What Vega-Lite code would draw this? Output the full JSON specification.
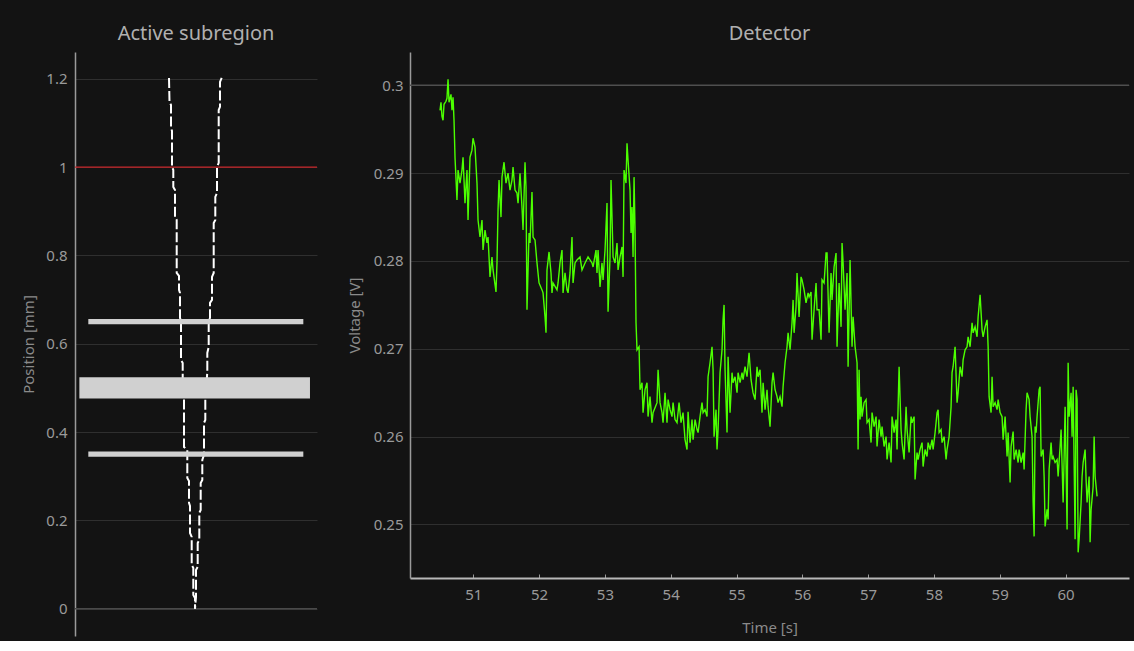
{
  "$schema": "https://vega.github.io/schema/vega-lite/v6.json",
  "background": "#131313",
  "padding": {"left": 21, "top": 24, "right": 5, "bottom": 5},
  "spacing": 29,
  "config": {
    "font": "Noto Sans",
    "view": {"stroke": null},
    "axis": {
      "labelColor": "#9a9a9a",
      "titleColor": "#8a8a8a",
      "labelFontSize": 15,
      "titleFontSize": 15,
      "titleFontWeight": "normal",
      "gridColor": "#2f2f2f",
      "gridWidth": 1,
      "domainColor": "#9a9a9a",
      "domainWidth": 1.5
    },
    "title": {"color": "#b0b0b0", "fontSize": 20, "fontWeight": "normal", "anchor": "middle", "offset": 8}
  },
  "hconcat": [
    {
      "width": 242,
      "height": 584,
      "title": "Active subregion",
      "encoding": {
        "y": {
          "field": "pos", "type": "quantitative",
          "scale": {"domain": [-0.062, 1.261], "nice": false, "zero": false},
          "axis": {"title": "Position [mm]", "values": [0, 0.2, 0.4, 0.6, 0.8, 1, 1.2], "format": "~g", "ticks": false, "grid": true, "labelPadding": 8, "titlePadding": 9}
        }
      },
      "layer": [
        {
          "data": {"values": [{"pos": 0}]},
          "mark": {"type": "rule", "color": "#4a4a4a", "strokeWidth": 1.5},
          "encoding": {}
        },
        {
          "data": {"values": [{"pos": 1}]},
          "mark": {"type": "rule", "color": "#c8262a", "strokeWidth": 1.2},
          "encoding": {}
        },
        {
          "data": {"values": [
            {"side": "L", "i": 0, "xd": -0.2231, "pos": 1.2023},
            {"side": "L", "i": 1, "xd": -0.2190, "pos": 1.1479},
            {"side": "L", "i": 2, "xd": -0.2066, "pos": 1.1411},
            {"side": "L", "i": 3, "xd": -0.2066, "pos": 1.0890},
            {"side": "L", "i": 4, "xd": -0.1983, "pos": 1.0822},
            {"side": "L", "i": 5, "xd": -0.1983, "pos": 1.0007},
            {"side": "L", "i": 6, "xd": -0.1876, "pos": 0.9939},
            {"side": "L", "i": 7, "xd": -0.1876, "pos": 0.9554},
            {"side": "L", "i": 8, "xd": -0.1736, "pos": 0.9486},
            {"side": "L", "i": 9, "xd": -0.1736, "pos": 0.8874},
            {"side": "L", "i": 10, "xd": -0.1595, "pos": 0.8806},
            {"side": "L", "i": 11, "xd": -0.1595, "pos": 0.7605},
            {"side": "L", "i": 12, "xd": -0.1405, "pos": 0.7537},
            {"side": "L", "i": 13, "xd": -0.1405, "pos": 0.7220},
            {"side": "L", "i": 14, "xd": -0.1322, "pos": 0.7152},
            {"side": "L", "i": 15, "xd": -0.1322, "pos": 0.6586},
            {"side": "L", "i": 16, "xd": -0.1240, "pos": 0.6518},
            {"side": "L", "i": 17, "xd": -0.1240, "pos": 0.5634},
            {"side": "L", "i": 18, "xd": -0.1099, "pos": 0.5566},
            {"side": "L", "i": 19, "xd": -0.1099, "pos": 0.5181},
            {"side": "L", "i": 20, "xd": -0.0992, "pos": 0.4841},
            {"side": "L", "i": 21, "xd": -0.0992, "pos": 0.3663},
            {"side": "L", "i": 22, "xd": -0.0719, "pos": 0.3595},
            {"side": "L", "i": 23, "xd": -0.0719, "pos": 0.2961},
            {"side": "L", "i": 24, "xd": -0.0579, "pos": 0.2893},
            {"side": "L", "i": 25, "xd": -0.0579, "pos": 0.2395},
            {"side": "L", "i": 26, "xd": -0.0496, "pos": 0.2327},
            {"side": "L", "i": 27, "xd": -0.0496, "pos": 0.1715},
            {"side": "L", "i": 28, "xd": -0.0355, "pos": 0.1624},
            {"side": "L", "i": 29, "xd": -0.0355, "pos": 0.0990},
            {"side": "L", "i": 30, "xd": -0.0223, "pos": 0.0922},
            {"side": "L", "i": 31, "xd": -0.0223, "pos": 0.0310},
            {"side": "L", "i": 32, "xd": -0.0083, "pos": 0.0242},
            {"side": "L", "i": 33, "xd": -0.0083, "pos": 0.0},
            {"side": "R", "i": 0, "xd": 0.2124, "pos": 1.2023},
            {"side": "R", "i": 1, "xd": 0.1983, "pos": 1.1932},
            {"side": "R", "i": 2, "xd": 0.1983, "pos": 1.1366},
            {"side": "R", "i": 3, "xd": 0.1876, "pos": 1.1298},
            {"side": "R", "i": 4, "xd": 0.1876, "pos": 1.0098},
            {"side": "R", "i": 5, "xd": 0.1736, "pos": 1.0007},
            {"side": "R", "i": 6, "xd": 0.1736, "pos": 0.9418},
            {"side": "R", "i": 7, "xd": 0.1595, "pos": 0.9327},
            {"side": "R", "i": 8, "xd": 0.1595, "pos": 0.8806},
            {"side": "R", "i": 9, "xd": 0.1463, "pos": 0.8738},
            {"side": "R", "i": 10, "xd": 0.1463, "pos": 0.7605},
            {"side": "R", "i": 11, "xd": 0.1322, "pos": 0.7515},
            {"side": "R", "i": 12, "xd": 0.1322, "pos": 0.6994},
            {"side": "R", "i": 13, "xd": 0.1157, "pos": 0.6926},
            {"side": "R", "i": 14, "xd": 0.1157, "pos": 0.6586},
            {"side": "R", "i": 15, "xd": 0.1050, "pos": 0.6518},
            {"side": "R", "i": 16, "xd": 0.1050, "pos": 0.5929},
            {"side": "R", "i": 17, "xd": 0.0934, "pos": 0.5793},
            {"side": "R", "i": 18, "xd": 0.0934, "pos": 0.5363},
            {"side": "R", "i": 19, "xd": 0.0769, "pos": 0.4728},
            {"side": "R", "i": 20, "xd": 0.0769, "pos": 0.4275},
            {"side": "R", "i": 21, "xd": 0.0661, "pos": 0.4207},
            {"side": "R", "i": 22, "xd": 0.0661, "pos": 0.3482},
            {"side": "R", "i": 23, "xd": 0.0521, "pos": 0.3369},
            {"side": "R", "i": 24, "xd": 0.0521, "pos": 0.2916},
            {"side": "R", "i": 25, "xd": 0.0388, "pos": 0.2848},
            {"side": "R", "i": 26, "xd": 0.0388, "pos": 0.2236},
            {"side": "R", "i": 27, "xd": 0.0273, "pos": 0.2168},
            {"side": "R", "i": 28, "xd": 0.0273, "pos": 0.1556},
            {"side": "R", "i": 29, "xd": 0.0140, "pos": 0.1488},
            {"side": "R", "i": 30, "xd": 0.0140, "pos": 0.0945},
            {"side": "R", "i": 31, "xd": 0.0, "pos": 0.0877},
            {"side": "R", "i": 32, "xd": 0.0, "pos": 0.0265},
            {"side": "R", "i": 33, "xd": -0.0083, "pos": 0.0}
          ]},
          "mark": {"type": "line", "color": "#ffffff", "strokeWidth": 2, "strokeDash": [10, 3]},
          "encoding": {
            "x": {"field": "xd", "type": "quantitative", "scale": {"domain": [-1, 1], "nice": false, "zero": false}, "axis": null},
            "detail": {"field": "side"},
            "order": {"field": "i", "type": "quantitative"}
          }
        },
        {
          "data": {"values": [
            {"xl": -0.890, "xr": 0.887, "pos": 0.644, "pos2": 0.656},
            {"xl": -0.964, "xr": 0.942, "pos": 0.476, "pos2": 0.524},
            {"xl": -0.890, "xr": 0.887, "pos": 0.344, "pos2": 0.356}
          ]},
          "mark": {"type": "rect", "color": "#d0d0d0"},
          "encoding": {
            "x": {"field": "xl", "type": "quantitative", "scale": {"domain": [-1, 1], "nice": false, "zero": false}, "axis": null},
            "x2": {"field": "xr"},
            "y2": {"field": "pos2"}
          }
        }
      ]
    },
    {
      "width": 719,
      "height": 526,
      "title": "Detector",
      "encoding": {
        "y": {
          "field": "v", "type": "quantitative",
          "scale": {"domain": [0.2439, 0.3038], "nice": false, "zero": false},
          "axis": {"title": "Voltage [V]", "values": [0.25, 0.26, 0.27, 0.28, 0.29, 0.3], "format": "~g", "ticks": false, "grid": true, "labelPadding": 7, "titlePadding": 11}
        }
      },
      "layer": [
        {
          "data": {"values": [{"v": 0.3}]},
          "mark": {"type": "rule", "color": "#4f4f4f", "strokeWidth": 1.5},
          "encoding": {}
        },
        {
          "data": {"values": [
{"t":50.494,"v":0.29716},{"t":50.509,"v":0.29807},{"t":50.524,"v":0.29648},{"t":50.540,"v":0.29603},{"t":50.555,"v":0.29785},{"t":50.585,"v":0.29819},{"t":50.600,"v":0.29853},{"t":50.616,"v":0.30069},{"t":50.631,"v":0.29807},{"t":50.661,"v":0.29898},
{"t":50.676,"v":0.29716},{"t":50.692,"v":0.29864},{"t":50.707,"v":0.29603},{"t":50.722,"v":0.29182},{"t":50.752,"v":0.28694},{"t":50.768,"v":0.29035},{"t":50.798,"v":0.28887},{"t":50.828,"v":0.29035},{"t":50.844,"v":0.29182},{"t":50.874,"v":0.28659},
{"t":50.904,"v":0.29035},{"t":50.920,"v":0.28466},{"t":50.950,"v":0.29182},{"t":50.980,"v":0.29262},{"t":50.996,"v":0.29398},{"t":51.026,"v":0.29296},{"t":51.056,"v":0.28887},{"t":51.072,"v":0.28466},{"t":51.102,"v":0.28273},{"t":51.132,"v":0.28466},
{"t":51.148,"v":0.28125},{"t":51.178,"v":0.28353},{"t":51.208,"v":0.28205},{"t":51.224,"v":0.28273},{"t":51.254,"v":0.27819},{"t":51.284,"v":0.28046},{"t":51.300,"v":0.27898},{"t":51.345,"v":0.27648},{"t":51.360,"v":0.27978},{"t":51.376,"v":0.28580},
{"t":51.391,"v":0.28921},{"t":51.421,"v":0.28500},{"t":51.436,"v":0.28955},{"t":51.467,"v":0.29125},{"t":51.497,"v":0.28887},{"t":51.528,"v":0.29000},{"t":51.558,"v":0.28807},{"t":51.588,"v":0.28921},{"t":51.604,"v":0.29069},{"t":51.634,"v":0.28807},
{"t":51.664,"v":0.28773},{"t":51.680,"v":0.28659},{"t":51.710,"v":0.29000},{"t":51.740,"v":0.28614},{"t":51.756,"v":0.28353},{"t":51.786,"v":0.29125},{"t":51.801,"v":0.28841},{"t":51.816,"v":0.27444},{"t":51.847,"v":0.28319},{"t":51.862,"v":0.28205},
{"t":51.892,"v":0.28785},{"t":51.908,"v":0.28273},{"t":51.938,"v":0.28239},{"t":51.968,"v":0.27978},{"t":51.999,"v":0.27750},{"t":52.044,"v":0.27671},{"t":52.060,"v":0.27637},{"t":52.090,"v":0.27364},{"t":52.105,"v":0.27182},{"t":52.120,"v":0.27898},
{"t":52.151,"v":0.28103},{"t":52.181,"v":0.27864},{"t":52.196,"v":0.27637},{"t":52.212,"v":0.27750},{"t":52.272,"v":0.27671},{"t":52.288,"v":0.27750},{"t":52.318,"v":0.27978},{"t":52.348,"v":0.28125},{"t":52.364,"v":0.27637},{"t":52.394,"v":0.27864},
{"t":52.424,"v":0.27671},{"t":52.440,"v":0.27637},{"t":52.470,"v":0.27864},{"t":52.500,"v":0.28273},{"t":52.516,"v":0.27750},{"t":52.546,"v":0.27978},{"t":52.576,"v":0.28012},{"t":52.622,"v":0.28046},{"t":52.652,"v":0.27898},{"t":52.698,"v":0.27978},
{"t":52.744,"v":0.28046},{"t":52.804,"v":0.27978},{"t":52.820,"v":0.27932},{"t":52.865,"v":0.28125},{"t":52.880,"v":0.27864},{"t":52.896,"v":0.28125},{"t":52.926,"v":0.27705},{"t":52.956,"v":0.27978},{"t":52.972,"v":0.27785},{"t":53.002,"v":0.28125},
{"t":53.032,"v":0.28659},{"t":53.048,"v":0.27421},{"t":53.078,"v":0.28046},{"t":53.093,"v":0.28921},{"t":53.124,"v":0.28046},{"t":53.154,"v":0.27978},{"t":53.184,"v":0.28205},{"t":53.200,"v":0.27898},{"t":53.230,"v":0.28046},{"t":53.260,"v":0.28160},
{"t":53.276,"v":0.27819},{"t":53.291,"v":0.29035},{"t":53.321,"v":0.28887},{"t":53.336,"v":0.29341},{"t":53.352,"v":0.29148},{"t":53.382,"v":0.28807},{"t":53.397,"v":0.28319},{"t":53.412,"v":0.28614},{"t":53.428,"v":0.28046},{"t":53.443,"v":0.28955},
{"t":53.458,"v":0.28353},{"t":53.473,"v":0.27296},{"t":53.488,"v":0.26989},{"t":53.519,"v":0.27023},{"t":53.534,"v":0.26534},{"t":53.564,"v":0.26614},{"t":53.580,"v":0.26273},{"t":53.610,"v":0.26534},{"t":53.640,"v":0.26614},{"t":53.656,"v":0.26228},
{"t":53.686,"v":0.26455},{"t":53.716,"v":0.26159},{"t":53.732,"v":0.26273},{"t":53.792,"v":0.26387},{"t":53.808,"v":0.26762},{"t":53.838,"v":0.26387},{"t":53.868,"v":0.26273},{"t":53.884,"v":0.26159},{"t":53.914,"v":0.26500},{"t":53.944,"v":0.26159},
{"t":53.960,"v":0.26421},{"t":53.990,"v":0.26307},{"t":54.020,"v":0.26228},{"t":54.036,"v":0.26387},{"t":54.066,"v":0.26194},{"t":54.096,"v":0.26159},{"t":54.127,"v":0.26387},{"t":54.157,"v":0.26159},{"t":54.187,"v":0.26273},{"t":54.218,"v":0.25966},
{"t":54.248,"v":0.25853},{"t":54.264,"v":0.26284},{"t":54.294,"v":0.25932},{"t":54.324,"v":0.26194},{"t":54.340,"v":0.25966},{"t":54.370,"v":0.26194},{"t":54.400,"v":0.26080},{"t":54.416,"v":0.26046},{"t":54.446,"v":0.26228},{"t":54.476,"v":0.26387},
{"t":54.492,"v":0.26273},{"t":54.522,"v":0.26307},{"t":54.552,"v":0.26228},{"t":54.568,"v":0.26682},{"t":54.598,"v":0.26841},{"t":54.628,"v":0.27023},{"t":54.644,"v":0.26762},{"t":54.659,"v":0.26000},{"t":54.689,"v":0.26307},{"t":54.704,"v":0.25853},
{"t":54.720,"v":0.26080},{"t":54.750,"v":0.26728},{"t":54.780,"v":0.26989},{"t":54.796,"v":0.27330},{"t":54.811,"v":0.27500},{"t":54.826,"v":0.26762},{"t":54.856,"v":0.26046},{"t":54.872,"v":0.26910},{"t":54.902,"v":0.26273},{"t":54.932,"v":0.26728},
{"t":54.948,"v":0.26614},{"t":54.978,"v":0.26682},{"t":55.008,"v":0.26500},{"t":55.024,"v":0.26728},{"t":55.054,"v":0.26614},{"t":55.084,"v":0.26728},{"t":55.100,"v":0.26648},{"t":55.130,"v":0.26796},{"t":55.160,"v":0.26682},{"t":55.191,"v":0.26955},
{"t":55.221,"v":0.26648},{"t":55.251,"v":0.26500},{"t":55.282,"v":0.26421},{"t":55.312,"v":0.26796},{"t":55.328,"v":0.26682},{"t":55.358,"v":0.26762},{"t":55.388,"v":0.26273},{"t":55.404,"v":0.26614},{"t":55.434,"v":0.26307},{"t":55.464,"v":0.26534},
{"t":55.480,"v":0.26341},{"t":55.510,"v":0.26114},{"t":55.540,"v":0.26614},{"t":55.556,"v":0.26728},{"t":55.586,"v":0.26534},{"t":55.616,"v":0.26455},{"t":55.632,"v":0.26387},{"t":55.662,"v":0.26455},{"t":55.692,"v":0.26341},{"t":55.708,"v":0.26569},
{"t":55.738,"v":0.26841},{"t":55.768,"v":0.27023},{"t":55.784,"v":0.27182},{"t":55.814,"v":0.26989},{"t":55.844,"v":0.27296},{"t":55.860,"v":0.27557},{"t":55.875,"v":0.27182},{"t":55.905,"v":0.27478},{"t":55.920,"v":0.27864},{"t":55.951,"v":0.27364},
{"t":55.981,"v":0.27819},{"t":55.996,"v":0.27785},{"t":56.027,"v":0.27671},{"t":56.057,"v":0.27523},{"t":56.088,"v":0.27637},{"t":56.103,"v":0.27591},{"t":56.133,"v":0.27648},{"t":56.148,"v":0.27103},{"t":56.179,"v":0.27444},{"t":56.209,"v":0.27750},
{"t":56.224,"v":0.27444},{"t":56.255,"v":0.27444},{"t":56.285,"v":0.27103},{"t":56.300,"v":0.27785},{"t":56.331,"v":0.27750},{"t":56.361,"v":0.28091},{"t":56.376,"v":0.28091},{"t":56.407,"v":0.27182},{"t":56.437,"v":0.27864},{"t":56.452,"v":0.27557},
{"t":56.483,"v":0.27932},{"t":56.513,"v":0.28091},{"t":56.528,"v":0.27023},{"t":56.559,"v":0.27750},{"t":56.589,"v":0.27250},{"t":56.604,"v":0.28205},{"t":56.620,"v":0.27978},{"t":56.650,"v":0.27444},{"t":56.680,"v":0.27864},{"t":56.696,"v":0.26796},
{"t":56.726,"v":0.28012},{"t":56.756,"v":0.27023},{"t":56.772,"v":0.27364},{"t":56.802,"v":0.27023},{"t":56.832,"v":0.26841},{"t":56.848,"v":0.25853},{"t":56.863,"v":0.26762},{"t":56.878,"v":0.26194},{"t":56.893,"v":0.26455},{"t":56.908,"v":0.26228},
{"t":56.939,"v":0.26387},{"t":56.969,"v":0.26421},{"t":56.984,"v":0.26159},{"t":57.015,"v":0.26194},{"t":57.045,"v":0.25932},{"t":57.060,"v":0.26273},{"t":57.091,"v":0.26114},{"t":57.121,"v":0.26228},{"t":57.136,"v":0.25887},{"t":57.167,"v":0.26194},
{"t":57.197,"v":0.26000},{"t":57.212,"v":0.26114},{"t":57.243,"v":0.25887},{"t":57.273,"v":0.26000},{"t":57.288,"v":0.25739},{"t":57.319,"v":0.25932},{"t":57.349,"v":0.25705},{"t":57.364,"v":0.26228},{"t":57.395,"v":0.26046},{"t":57.425,"v":0.26194},
{"t":57.440,"v":0.25853},{"t":57.471,"v":0.26796},{"t":57.501,"v":0.26080},{"t":57.516,"v":0.25932},{"t":57.547,"v":0.25739},{"t":57.577,"v":0.26341},{"t":57.592,"v":0.26080},{"t":57.623,"v":0.25819},{"t":57.653,"v":0.26228},{"t":57.668,"v":0.26159},
{"t":57.699,"v":0.26228},{"t":57.714,"v":0.25512},{"t":57.744,"v":0.25819},{"t":57.760,"v":0.25739},{"t":57.790,"v":0.25853},{"t":57.820,"v":0.25932},{"t":57.836,"v":0.25659},{"t":57.866,"v":0.25853},{"t":57.896,"v":0.25773},{"t":57.912,"v":0.25932},
{"t":57.942,"v":0.25853},{"t":57.972,"v":0.25966},{"t":57.988,"v":0.25853},{"t":58.018,"v":0.26046},{"t":58.048,"v":0.26273},{"t":58.064,"v":0.26307},{"t":58.079,"v":0.26046},{"t":58.109,"v":0.26080},{"t":58.124,"v":0.25932},{"t":58.155,"v":0.26000},
{"t":58.185,"v":0.25739},{"t":58.200,"v":0.25853},{"t":58.231,"v":0.26000},{"t":58.261,"v":0.26341},{"t":58.276,"v":0.26728},{"t":58.292,"v":0.26796},{"t":58.322,"v":0.27023},{"t":58.352,"v":0.26387},{"t":58.368,"v":0.26500},{"t":58.398,"v":0.26796},
{"t":58.428,"v":0.26682},{"t":58.444,"v":0.26875},{"t":58.474,"v":0.26989},{"t":58.504,"v":0.27023},{"t":58.520,"v":0.27137},{"t":58.550,"v":0.27023},{"t":58.580,"v":0.27296},{"t":58.596,"v":0.27182},{"t":58.626,"v":0.27250},{"t":58.656,"v":0.27137},
{"t":58.672,"v":0.27364},{"t":58.702,"v":0.27614},{"t":58.732,"v":0.27216},{"t":58.748,"v":0.27137},{"t":58.778,"v":0.27250},{"t":58.808,"v":0.27330},{"t":58.824,"v":0.27023},{"t":58.839,"v":0.26455},{"t":58.869,"v":0.26273},{"t":58.884,"v":0.26682},
{"t":58.900,"v":0.26341},{"t":58.930,"v":0.26387},{"t":58.960,"v":0.26307},{"t":58.976,"v":0.26421},{"t":59.006,"v":0.26273},{"t":59.036,"v":0.26228},{"t":59.052,"v":0.25966},{"t":59.082,"v":0.26228},{"t":59.112,"v":0.25773},{"t":59.128,"v":0.26046},
{"t":59.158,"v":0.25478},{"t":59.173,"v":0.25887},{"t":59.204,"v":0.26057},{"t":59.219,"v":0.25739},{"t":59.249,"v":0.25853},{"t":59.280,"v":0.25705},{"t":59.295,"v":0.25853},{"t":59.325,"v":0.25705},{"t":59.356,"v":0.25819},{"t":59.371,"v":0.25625},
{"t":59.401,"v":0.26307},{"t":59.416,"v":0.26500},{"t":59.447,"v":0.26421},{"t":59.462,"v":0.26228},{"t":59.492,"v":0.26000},{"t":59.508,"v":0.25250},{"t":59.523,"v":0.24864},{"t":59.538,"v":0.26114},{"t":59.553,"v":0.26046},{"t":59.568,"v":0.26228},
{"t":59.599,"v":0.26534},{"t":59.614,"v":0.26569},{"t":59.629,"v":0.25773},{"t":59.660,"v":0.25853},{"t":59.675,"v":0.25546},{"t":59.690,"v":0.24977},{"t":59.720,"v":0.25171},{"t":59.736,"v":0.25057},{"t":59.751,"v":0.25625},{"t":59.781,"v":0.25932},
{"t":59.796,"v":0.25739},{"t":59.812,"v":0.25773},{"t":59.842,"v":0.25705},{"t":59.872,"v":0.25739},{"t":59.888,"v":0.25546},{"t":59.918,"v":0.25887},{"t":59.933,"v":0.26080},{"t":59.964,"v":0.25250},{"t":59.979,"v":0.25773},{"t":59.994,"v":0.26341},
{"t":60.024,"v":0.24943},{"t":60.040,"v":0.26841},{"t":60.055,"v":0.26228},{"t":60.085,"v":0.26500},{"t":60.100,"v":0.26000},{"t":60.116,"v":0.26569},{"t":60.146,"v":0.24830},{"t":60.161,"v":0.26534},{"t":60.176,"v":0.26421},{"t":60.192,"v":0.24682},
{"t":60.207,"v":0.24830},{"t":60.237,"v":0.25250},{"t":60.252,"v":0.25546},{"t":60.268,"v":0.25705},{"t":60.298,"v":0.25853},{"t":60.313,"v":0.25512},{"t":60.328,"v":0.25250},{"t":60.359,"v":0.25546},{"t":60.374,"v":0.24796},{"t":60.389,"v":0.25171},
{"t":60.420,"v":0.25432},{"t":60.435,"v":0.26000},{"t":60.450,"v":0.25546},{"t":60.480,"v":0.25319}
          ]},
          "mark": {"type": "line", "color": "#4cff00", "strokeWidth": 1.4},
          "encoding": {
            "x": {
              "field": "t", "type": "quantitative",
              "scale": {"domain": [50.038, 60.965], "nice": false, "zero": false},
              "axis": {"title": "Time [s]", "values": [51, 52, 53, 54, 55, 56, 57, 58, 59, 60], "format": "d", "grid": false, "ticks": true, "tickSize": -4, "tickColor": "#9a9a9a", "domainColor": "#b8b8b8", "domainWidth": 2, "labelPadding": 13, "titlePadding": 18}
            }
          }
        }
      ]
    }
  ]
}
